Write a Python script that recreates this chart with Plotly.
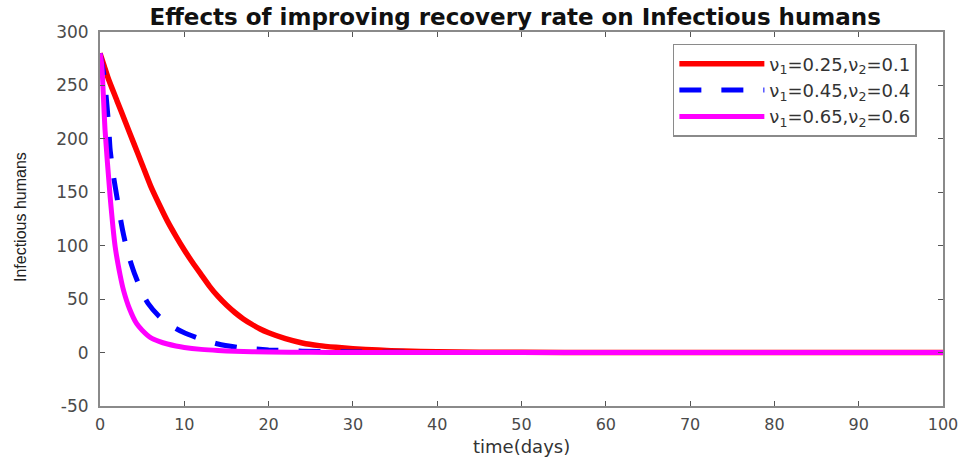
import plotly.graph_objects as go

# time (days) and Infectious humans for each recovery-rate scenario
t_red = [0, 0.5, 1, 2, 3, 4, 5, 6, 7, 8, 9, 10, 11, 12, 13, 14, 15, 16, 17, 18, 19, 20,
         22, 24, 26, 28, 30, 33, 36, 40, 45, 50, 60, 70, 80, 90, 100]
i_red = [280, 268, 256, 236, 216, 196, 176, 156, 139, 123, 109, 96, 84, 73, 62, 52.5, 44.5, 37.5, 31.5, 26.5, 22, 18.5,
         13, 9, 6.5, 4.9, 3.6, 2.3, 1.4, 0.8, 0.4, 0.2, 0.05, 0, 0, 0, 0]

t_blue = [0, 0.5, 1, 1.2, 1.6, 2, 2.5, 2.8, 3.3, 4, 5, 5.7, 7, 8, 9, 10, 12, 14, 16.6, 20, 24, 30,
          40, 50, 60, 80, 100]
i_blue = [280, 258, 215, 190, 165, 146, 122, 110, 93, 76, 56, 46, 34, 27.5, 22.5, 18.5, 12.5, 8, 4.5, 2.5, 1.3, 0.5,
          0.1, 0, 0, 0, 0]

t_mag = [0, 0.2, 0.6, 1.2, 1.8, 2.4, 2.8, 3.5, 4.35, 5, 6, 7, 8, 9, 10, 12, 14, 16, 20,
         25, 30, 40, 60, 80, 100]
i_mag = [280, 270, 208, 146, 99, 72, 58, 41, 27, 21, 14, 10.5, 8, 6.2, 4.8, 3, 1.9, 1.2, 0.5,
         0.2, 0.1, 0, 0, 0, 0]

names = ["\u03bd<sub>1</sub>=0.25,\u03bd<sub>2</sub>=0.1",
         "\u03bd<sub>1</sub>=0.45,\u03bd<sub>2</sub>=0.4",
         "\u03bd<sub>1</sub>=0.65,\u03bd<sub>2</sub>=0.6"]

x_ticks = list(range(0, 101, 10))
y_ticks = list(range(-50, 301, 50))

fig = go.Figure()
fig.add_trace(go.Scatter(x=t_red, y=i_red, mode="lines", name=names[0],
                         line=dict(color="#ff0000", width=5.5, shape="spline", smoothing=0.5)))
fig.add_trace(go.Scatter(x=t_blue, y=i_blue, mode="lines", name=names[1],
                         line=dict(color="#0000ff", width=5, dash="22px,20px", shape="spline", smoothing=0.5)))
fig.add_trace(go.Scatter(x=t_mag, y=i_mag, mode="lines", name=names[2],
                         line=dict(color="#ff00ff", width=5, shape="spline", smoothing=0.5)))

axis_common = dict(showgrid=False, zeroline=False, showline=True, linecolor="#8a8a8a", linewidth=2,
                   mirror="ticks", ticks="inside", ticklen=5, tickwidth=1, tickcolor="#555555",
                   automargin=False,
                   tickfont=dict(family="DejaVu Sans", size=16, color="#4a4a4a"))

fig.update_xaxes(range=[0, 100], tickvals=x_ticks, ticktext=[str(v) for v in x_ticks],
                 ticklabelstandoff=3, **axis_common)
fig.update_yaxes(range=[-50, 300], tickvals=y_ticks, ticktext=[str(v) for v in y_ticks],
                 ticklabelstandoff=6, tickfont_size=17)

fig.update_yaxes(**{k: v for k, v in axis_common.items() if k != "tickfont"},
                 tickfont=dict(family="DejaVu Sans", size=17, color="#4a4a4a"))

fig.update_layout(
    width=963, height=457,
    margin=dict(l=100, r=20, t=32, b=51),
    paper_bgcolor="white", plot_bgcolor="white",
    title=dict(text="<b>Effects of improving recovery rate on Infectious humans</b>",
               x=0.535, xanchor="center", y=0.962, yanchor="middle",
               font=dict(family="DejaVu Sans", size=23, color="#111111")),
    legend=dict(x=0.969, xanchor="right", y=0.968, yanchor="top",
                bgcolor="white", bordercolor="#8a8a8a", borderwidth=1.5,
                font=dict(family="DejaVu Sans", size=18, color="#333333"),
                itemwidth=85, tracegroupgap=0),
    showlegend=True,
    annotations=[
        dict(text="time(days)", xref="paper", yref="paper", x=0.4995, y=-0.108,
             xanchor="center", yanchor="middle", showarrow=False,
             font=dict(family="DejaVu Sans", size=18, color="#333333")),
        dict(text="Infectious humans", xref="paper", yref="paper", x=-0.095, y=0.505,
             xanchor="center", yanchor="middle", showarrow=False, textangle=-90,
             font=dict(family="Liberation Sans", size=16, color="#222222")),
    ],
)

fig.write_html("out.html")
